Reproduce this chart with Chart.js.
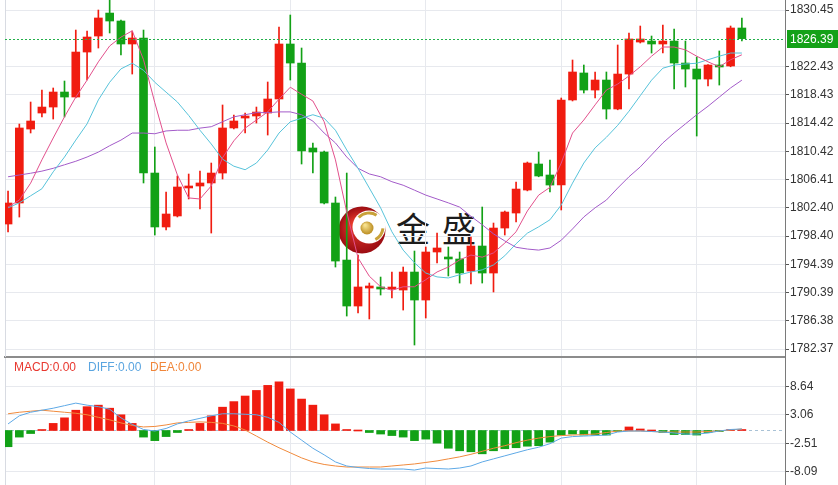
<!DOCTYPE html>
<html>
<head>
<meta charset="utf-8">
<script src="https://cdn.jsdelivr.net/npm/chart.js@4.4.0/dist/chart.umd.min.js"></script>
<style>
  body { margin: 0; background: #fff; width: 838px; height: 485px; overflow: hidden; position: relative; font-family: "Liberation Sans", Arial, sans-serif; }
  #main { position: absolute; left: 0; top: 0; }
  #macd { position: absolute; left: 0; top: 358px; }
  .brand { position: absolute; left: 396px; top: 211px; font: 34px/34px "Noto Sans CJK SC", sans-serif; letter-spacing: 12px; color: #1c1c1c; white-space: nowrap; }
  .lg { position: absolute; top: 360px; font-size: 12px; line-height: 14px; white-space: nowrap; }
</style>
</head>
<body>
<div class="brand">金盛</div>
<canvas id="main" width="838" height="358"></canvas>
<canvas id="macd" width="838" height="127"></canvas>
<span class="lg" style="left:14px;color:#e8382f">MACD:0.00</span>
<span class="lg" style="left:88px;color:#5aa5e0">DIFF:0.00</span>
<span class="lg" style="left:150px;color:#f0863a">DEA:0.00</span>
<script>
const opens = [1800.10, 1803.08, 1813.57, 1815.84, 1816.69, 1818.82, 1818.11, 1824.49, 1826.76, 1830.02,
  1828.89, 1825.63, 1826.48, 1807.33, 1799.68, 1801.24, 1805.21, 1805.49, 1805.92, 1807.33,
  1813.72, 1815.13, 1815.42, 1815.84, 1817.83, 1825.63, 1822.93, 1810.88, 1810.31, 1803.08,
  1794.99, 1788.47, 1791.02, 1791.17, 1790.88, 1790.74, 1793.29, 1789.32, 1796.13, 1795.42,
  1795.14, 1793.43, 1796.98, 1793.15, 1799.53, 1801.66, 1804.92, 1808.61, 1807.05, 1805.63,
  1817.69, 1821.52, 1819.10, 1820.52, 1816.41, 1821.37, 1825.91, 1826.05, 1825.63, 1826.05,
  1822.93, 1822.08, 1820.66, 1822.65, 1822.51, 1827.90];
const closes = [1803.08, 1813.72, 1814.71, 1816.69, 1818.82, 1818.11, 1824.49, 1826.62, 1829.32, 1828.89,
  1825.63, 1826.48, 1807.33, 1799.68, 1801.52, 1805.35, 1805.49, 1805.92, 1807.33, 1813.72,
  1814.71, 1815.42, 1815.98, 1817.83, 1825.63, 1822.93, 1810.45, 1810.31, 1803.08, 1794.85,
  1788.47, 1791.17, 1791.31, 1790.88, 1791.02, 1793.29, 1789.32, 1796.13, 1796.70, 1795.14,
  1793.15, 1796.98, 1793.15, 1799.53, 1801.80, 1805.06, 1808.75, 1806.91, 1805.63, 1817.69,
  1821.66, 1819.10, 1820.52, 1816.41, 1821.37, 1826.34, 1826.34, 1825.63, 1826.05, 1822.93,
  1822.08, 1820.66, 1822.65, 1822.37, 1827.90, 1826.39];
const highs = [1804.78, 1814.28, 1817.40, 1819.10, 1819.39, 1820.38, 1827.61, 1827.47, 1830.45, 1832.50,
  1829.03, 1827.47, 1827.61, 1811.02, 1804.64, 1806.91, 1807.19, 1807.62, 1808.75, 1816.98,
  1815.56, 1815.84, 1816.69, 1820.24, 1828.04, 1829.74, 1825.06, 1811.59, 1810.45, 1803.93,
  1807.33, 1795.70, 1791.73, 1792.58, 1793.29, 1794.00, 1796.27, 1796.84, 1798.82, 1796.84,
  1796.13, 1798.26, 1802.51, 1800.24, 1801.94, 1806.06, 1808.89, 1810.31, 1809.18, 1817.97,
  1823.36, 1822.65, 1821.66, 1821.66, 1825.49, 1827.19, 1828.18, 1826.76, 1828.32, 1827.76,
  1826.05, 1823.78, 1822.70, 1824.64, 1828.18, 1829.32];
const lows = [1798.97, 1801.09, 1813.01, 1815.28, 1814.99, 1815.28, 1818.00, 1820.52, 1825.06, 1827.19,
  1824.07, 1821.37, 1805.92, 1798.54, 1799.25, 1801.10, 1803.65, 1802.23, 1798.82, 1806.48,
  1813.60, 1813.01, 1814.42, 1812.72, 1815.28, 1820.52, 1808.61, 1807.33, 1802.94, 1794.00,
  1787.05, 1787.48, 1786.63, 1790.03, 1789.61, 1787.90, 1782.94, 1786.77, 1794.57, 1792.73,
  1791.73, 1791.59, 1791.73, 1790.46, 1798.54, 1800.38, 1804.80, 1806.80, 1804.64, 1802.09,
  1817.55, 1818.68, 1817.97, 1814.99, 1816.30, 1819.25, 1825.77, 1824.35, 1824.35, 1819.25,
  1819.53, 1812.58, 1819.67, 1819.81, 1822.40, 1826.05];

// moving averages
const ma5 = [1802.5, 1803.5, 1805.9, 1809.2, 1812.3, 1815.3, 1818.1, 1820.5, 1823.1, 1825.35,
  1826.6, 1827.5, 1823.4, 1817.3, 1811.6, 1807.05, 1803.8, 1803.65, 1805.5, 1809.5,
  1811.9, 1813.7, 1814.85, 1816.0, 1817.8, 1819.5, 1818.5, 1817.55, 1814.6, 1809.2,
  1801.8, 1795.3, 1792.7, 1791.2, 1790.7, 1791.2, 1791.2, 1792.2, 1793.3, 1794.0,
  1795.0, 1795.7, 1795.4, 1796.0, 1797.4, 1799.0, 1801.95, 1804.2, 1805.3, 1808.75,
  1813.0, 1814.85, 1817.0, 1819.1, 1819.95, 1821.1, 1822.4, 1823.9, 1825.2, 1825.2,
  1824.8, 1823.9, 1823.1, 1822.4, 1823.4, 1824.1];
const ma10 = [1802.4, 1803.1, 1804.1, 1805.1, 1807.5, 1809.6, 1812.0, 1814.3, 1817.7, 1820.2,
  1822.1, 1822.9, 1821.9, 1820.2, 1818.8, 1817.4, 1815.5, 1813.4, 1811.45, 1809.3,
  1808.3, 1807.8, 1808.75, 1810.6, 1813.0, 1814.6, 1815.1, 1815.6, 1815.1, 1813.4,
  1810.6, 1808.0, 1805.2, 1802.4, 1799.0, 1796.4, 1794.6, 1793.15, 1792.6, 1792.45,
  1792.9, 1793.3, 1793.6, 1794.3, 1795.6, 1797.3, 1798.8, 1799.7, 1800.7, 1802.8,
  1805.9, 1808.75, 1810.9, 1812.4, 1814.1, 1816.1, 1818.3, 1820.5, 1822.2, 1822.65,
  1822.8, 1822.9, 1823.4, 1823.9, 1824.35, 1824.35];
const ma30 = [1806.8, 1807.05, 1807.3, 1807.6, 1808.0, 1808.5, 1809.0, 1809.6, 1810.3, 1811.2,
  1812.0, 1813.0, 1813.0, 1812.9, 1813.3, 1813.4, 1813.4, 1813.7, 1813.9, 1814.6,
  1815.3, 1815.6, 1815.9, 1815.9, 1816.0, 1816.0, 1815.6, 1814.7, 1813.0, 1811.6,
  1809.6, 1808.0, 1807.2, 1806.8, 1806.1, 1805.6, 1804.9, 1804.2, 1803.65, 1803.1,
  1802.5, 1801.2, 1800.0, 1798.7, 1797.7, 1796.8, 1796.55, 1796.4, 1796.7, 1797.8,
  1799.4, 1801.1, 1802.4, 1803.5, 1805.2, 1806.8, 1808.2, 1809.9, 1811.6, 1813.0,
  1814.3, 1815.6, 1816.8, 1818.1, 1819.4, 1820.5];

const macdHist = [-3.2, -1.3, -0.6, 0.1, 1.4, 2.5, 4.0, 4.7, 5.0, 4.4,
  3.1, 1.4, -1.3, -2.0, -1.2, -0.4, 0.1, 1.4, 2.9, 4.6,
  5.7, 6.8, 7.9, 8.9, 9.6, 8.2, 6.2, 5.0, 3.1, 1.3,
  0.05, 0, -0.4, -0.7, -1.0, -1.3, -2.0, -1.7, -2.5, -3.5,
  -4.0, -4.2, -4.6, -4.0, -3.6, -3.4, -3.1, -3.0, -2.3, -0.9,
  -0.7, -0.9, -0.9, -0.9, -0.1, 0.7, 0.3, 0, -0.4, -0.8,
  -0.8, -0.9, -0.4, -0.2, 0.1, 0.05];
const diffLine = [1.3, 2.9, 3.6, 4.0, 4.4, 4.9, 5.4, 5.0, 4.7, 4.2,
  2.5, 1.2, 0.2, -0.1, 0.4, 1.3, 1.9, 2.4, 2.9, 3.3,
  3.3, 3.2, 3.1, 2.6, 1.6, -0.3, -1.9, -3.5, -4.8, -6.2,
  -7.0, -7.3, -7.5, -7.6, -7.6, -7.6, -7.8, -7.4, -7.5, -7.6,
  -7.4, -7.0, -6.2, -5.6, -5.0, -4.4, -3.8, -3.3, -2.6, -1.5,
  -1.2, -1.1, -1.0, -0.9, -0.3, -0.1, -0.1, -0.2, -0.3, -0.5,
  -0.7, -0.7, -0.5, -0.1, 0.2, 0.3];
const deaLine = [3.3, 3.6, 3.8, 4.0, 3.8, 3.6, 3.4, 3.1, 2.6, 2.1,
  1.5, 1.0, 0.7, 0.8, 1.1, 1.5, 1.6, 1.7, 1.6, 1.4,
  0.9, 0.1, -1.1, -2.3, -3.4, -4.4, -5.4, -6.2, -6.7, -7.0,
  -7.2, -7.2, -7.2, -7.2, -7.0, -6.8, -6.6, -6.3, -6.0, -5.6,
  -5.2, -4.7, -4.1, -3.5, -3.0, -2.4, -1.9, -1.5, -1.2, -1.0,
  -0.9, -0.8, -0.7, -0.4, -0.1, -0.1, -0.1, -0.2, -0.3, -0.3,
  -0.3, -0.3, -0.2, -0.1, 0.1, 0.3];

const priceTicks = [1830.45, 1822.43, 1818.43, 1814.42, 1810.42, 1806.41, 1802.40, 1798.40, 1794.39, 1790.39, 1786.38, 1782.37];
const macdTicks = [8.64, 3.06, -2.51, -8.09];
const gridCols = [13, 25, 37, 49, 61];

const RED = '#f01c10';
const GREEN = '#12a116';
const GRID = '#e7e9ee';
const X_MIN = -0.27, X_MAX = 68.82;

Chart.defaults.font.family = '"Liberation Sans", Arial, sans-serif';
Chart.defaults.font.size = 12;
Chart.defaults.animation = false;

const pts = arr => arr.map((v, i) => ({ x: i, y: v }));
const candleColor = c => closes[c.dataIndex] >= opens[c.dataIndex] ? RED : GREEN;
const lastClose = closes[closes.length - 1];

function drawLogo(ctx, cx, cy) {
  ctx.save();
  const g = ctx.createRadialGradient(cx - 8, cy - 6, 2, cx, cy, 24);
  g.addColorStop(0, '#e83a2c');
  g.addColorStop(1, '#9a0c12');
  ctx.fillStyle = g;
  ctx.beginPath(); ctx.arc(cx, cy, 23.5, 0, Math.PI * 2); ctx.fill();
  ctx.fillStyle = '#fff';
  ctx.beginPath(); ctx.arc(cx + 7, cy - 3, 16.5, 0, Math.PI * 2); ctx.fill();
  ctx.strokeStyle = '#c9a23a';
  ctx.lineWidth = 3;
  ctx.beginPath(); ctx.arc(cx + 7, cy - 3, 14, -2.4, -1.0); ctx.stroke();
  ctx.beginPath(); ctx.arc(cx + 7, cy - 3, 14, 0.1, 1.1); ctx.stroke();
  const gb = ctx.createRadialGradient(cx + 3, cy - 5, 1, cx + 5, cy - 2, 7);
  gb.addColorStop(0, '#f6e08c');
  gb.addColorStop(1, '#b8891c');
  ctx.fillStyle = gb;
  ctx.beginPath(); ctx.arc(cx + 5, cy - 2, 6.5, 0, Math.PI * 2); ctx.fill();
  ctx.restore();
}

const leftEdge = {
  id: 'leftEdge',
  beforeDatasetsDraw(chart) {
    const { ctx, chartArea } = chart;
    ctx.save();
    ctx.strokeStyle = '#d8dbe2';
    ctx.lineWidth = 1;
    ctx.beginPath();
    ctx.moveTo(chartArea.left + 0.5, chartArea.top);
    ctx.lineTo(chartArea.left + 0.5, chartArea.bottom);
    ctx.stroke();
    ctx.restore();
  }
};

const mainDecor = {
  id: 'mainDecor',
  beforeDatasetsDraw(chart) {
    drawLogo(chart.ctx, 362, 230);
  },
  afterDatasetsDraw(chart) {
    const { ctx, chartArea } = chart;
    const y = Math.round(chart.scales.y.getPixelForValue(lastClose)) + 0.5;
    ctx.save();
    ctx.strokeStyle = '#22b04a';
    ctx.lineWidth = 1;
    ctx.setLineDash([2, 2]);
    ctx.beginPath();
    ctx.moveTo(chartArea.left, y);
    ctx.lineTo(chartArea.right, y);
    ctx.stroke();
    ctx.restore();
  },
  afterDraw(chart) {
    const { ctx, chartArea } = chart;
    const y = chart.scales.y.getPixelForValue(lastClose);
    ctx.save();
    ctx.fillStyle = '#14a118';
    ctx.fillRect(chartArea.right + 2, Math.round(y) - 9, 53, 18);
    ctx.fillStyle = '#fff';
    ctx.font = '12px "Liberation Sans", Arial, sans-serif';
    ctx.textBaseline = 'middle';
    ctx.fillText(lastClose.toFixed(2), chartArea.right + 5, Math.round(y) + 0.5);
    ctx.restore();
  }
};

const macdDecor = {
  id: 'macdDecor',
  beforeDatasetsDraw(chart) {
    const { ctx, chartArea } = chart;
    const y = Math.round(chart.scales.y.getPixelForValue(0)) + 0.5;
    ctx.save();
    ctx.strokeStyle = '#a9c2d6';
    ctx.lineWidth = 1;
    ctx.setLineDash([3, 3]);
    ctx.beginPath();
    ctx.moveTo(chartArea.left, y);
    ctx.lineTo(chartArea.right, y);
    ctx.stroke();
    ctx.restore();
  }
};

const xScale = (borderShown) => ({
  type: 'linear', min: X_MIN, max: X_MAX, offset: false,
  grid: { color: GRID, drawTicks: false, offset: false },
  border: { display: borderShown, color: '#8c8c8c', width: 2 },
  ticks: { display: false },
  afterBuildTicks: s => { s.ticks = gridCols.map(v => ({ value: v })); },
  afterFit: s => { s.height = 0; s.paddingLeft = 0; s.paddingRight = 0; }
});

const yScale = (min, max, ticks) => ({
  position: 'right', min, max,
  grid: { color: GRID, tickColor: '#555', tickLength: 4 },
  border: { color: '#7a7a7a' },
  ticks: { color: '#333', padding: 1, callback: v => Number(v).toFixed(2) },
  afterBuildTicks: s => { s.ticks = ticks.map(v => ({ value: v })); },
  afterFit: s => { s.width = 53; s.paddingTop = 0; s.paddingBottom = 0; }
});

new Chart(document.getElementById('main'), {
  type: 'bar',
  data: {
    datasets: [
      { type: 'line', data: pts(ma5), borderColor: '#e2508c', borderWidth: 1, pointRadius: 0, tension: 0, order: 1 },
      { type: 'line', data: pts(ma10), borderColor: '#57c3da', borderWidth: 1, pointRadius: 0, tension: 0, order: 1 },
      { type: 'line', data: pts(ma30), borderColor: '#a35bc9', borderWidth: 1, pointRadius: 0, tension: 0, order: 1 },
      { data: lows.map((l, i) => ({ x: i, y: [l, highs[i]] })), backgroundColor: candleColor, barThickness: 1, grouped: false, order: 3 },
      { data: opens.map((o, i) => ({ x: i, y: [o, closes[i]] })), backgroundColor: candleColor, barThickness: 8, minBarLength: 2, grouped: false, order: 2 }
    ]
  },
  options: {
    responsive: false,
    devicePixelRatio: 1,
    layout: { padding: { left: 5, right: 0, top: 0, bottom: 1 } },
    plugins: { legend: { display: false }, tooltip: { enabled: false } },
    scales: {
      x: xScale(true),
      y: yScale(1781.24, 1831.87, priceTicks)
    }
  },
  plugins: [leftEdge, mainDecor]
});

new Chart(document.getElementById('macd'), {
  type: 'bar',
  data: {
    datasets: [
      { type: 'line', data: pts(diffLine), borderColor: '#5ea9e6', borderWidth: 1, pointRadius: 0, tension: 0, order: 1 },
      { type: 'line', data: pts(deaLine), borderColor: '#f08a3c', borderWidth: 1, pointRadius: 0, tension: 0, order: 1 },
      { data: pts(macdHist), backgroundColor: c => macdHist[c.dataIndex] >= 0 ? RED : GREEN, barThickness: 8, minBarLength: 1, grouped: false, order: 2 }
    ]
  },
  options: {
    responsive: false,
    devicePixelRatio: 1,
    layout: { padding: { left: 5, right: 0, top: 0, bottom: 0 } },
    plugins: { legend: { display: false }, tooltip: { enabled: false } },
    scales: {
      x: xScale(false),
      y: yScale(-10.75, 14.30, macdTicks)
    }
  },
  plugins: [leftEdge, macdDecor]
});
</script>
</body>
</html>
